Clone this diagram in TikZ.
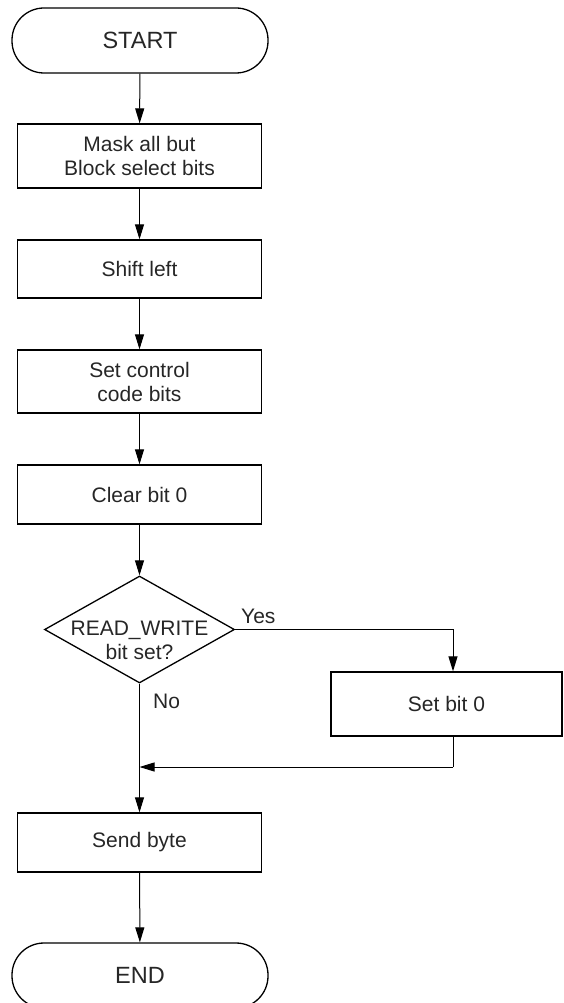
\documentclass[tikz,border=0pt]{standalone}
\usepackage{fontspec}
\setmainfont{Liberation Sans}
\usetikzlibrary{arrows.meta,shapes.geometric}

\tikzset{
  base/.style={draw=black, line width=1.3pt, text=black!85, align=center,
               font=\fontsize{21}{24}\selectfont, inner sep=0pt},
  terminal/.style={base, rectangle, rounded corners=32pt,
                   minimum width=256pt, minimum height=65pt,
                   font=\fontsize{23.5}{26}\selectfont},
  process/.style={base, rectangle, minimum width=244pt},
  decision/.style={draw=black, line width=1.3pt, diamond, inner sep=0pt,
                   minimum width=190pt, minimum height=107pt},
  flow/.style={draw=black, line width=1pt,
               -{Triangle[length=15pt, width=9pt]}},
  plain/.style={draw=black, line width=1pt},
  tag/.style={font=\fontsize{21}{24}\selectfont, text=black!85, inner sep=0pt}
}

\begin{document}
\begin{tikzpicture}[x=1pt, y=-1pt]
  \useasboundingbox (0,0) rectangle (564,1003);

  % main column
  \node[terminal] (start) at (140,40.5) {START};
  \node[process, minimum height=64pt] (mask) at (139.5,156) {Mask all but\\Block select bits};
  \node[process, minimum height=58pt] (shift) at (139.5,269) {Shift left};
  \node[process, minimum height=63pt] (setctl) at (139.5,381.5) {Set control\\code bits};
  \node[process, minimum height=59pt] (clear) at (139.5,494.5) {Clear bit 0};
  \node[decision] (rw) at (139.5,629.5) {};
  \node[tag, align=center] (rwtext) at ([yshift=-11pt]rw.center) {READ\_WRITE\\bit set?};
  \node[process, minimum height=59pt] (send) at (139.5,842.5) {Send byte};
  \node[terminal] (end) at (140,975.5) {END};

  % side branch
  \node[base, rectangle, minimum width=231pt, minimum height=64pt] (setbit) at (446.5,704) {Set bit 0};
  \coordinate (yesturn) at (453,629.5);
  \coordinate (jointurn) at (453,767);

  % connectors
  \draw[flow] (start) -- (mask);
  \draw[flow] (mask) -- (shift);
  \draw[flow] (shift) -- (setctl);
  \draw[flow] (setctl) -- (clear);
  \draw[flow] (clear) -- (rw);
  \draw[flow] (rw.south) -- (send.north);
  \draw[flow] (send) -- (end);
  \draw[flow] (rw.east) -- (yesturn) -- (yesturn |- setbit.north);
  \draw[plain] (jointurn |- setbit.south) -- (jointurn);
  \draw[flow] (jointurn) -- (jointurn -| rw.south);

  % branch labels
  \node[tag, anchor=base west] (yes) at (241,623) {Yes};
  \node[tag, anchor=base west] (no) at (153,708) {No};
\end{tikzpicture}
\end{document}
